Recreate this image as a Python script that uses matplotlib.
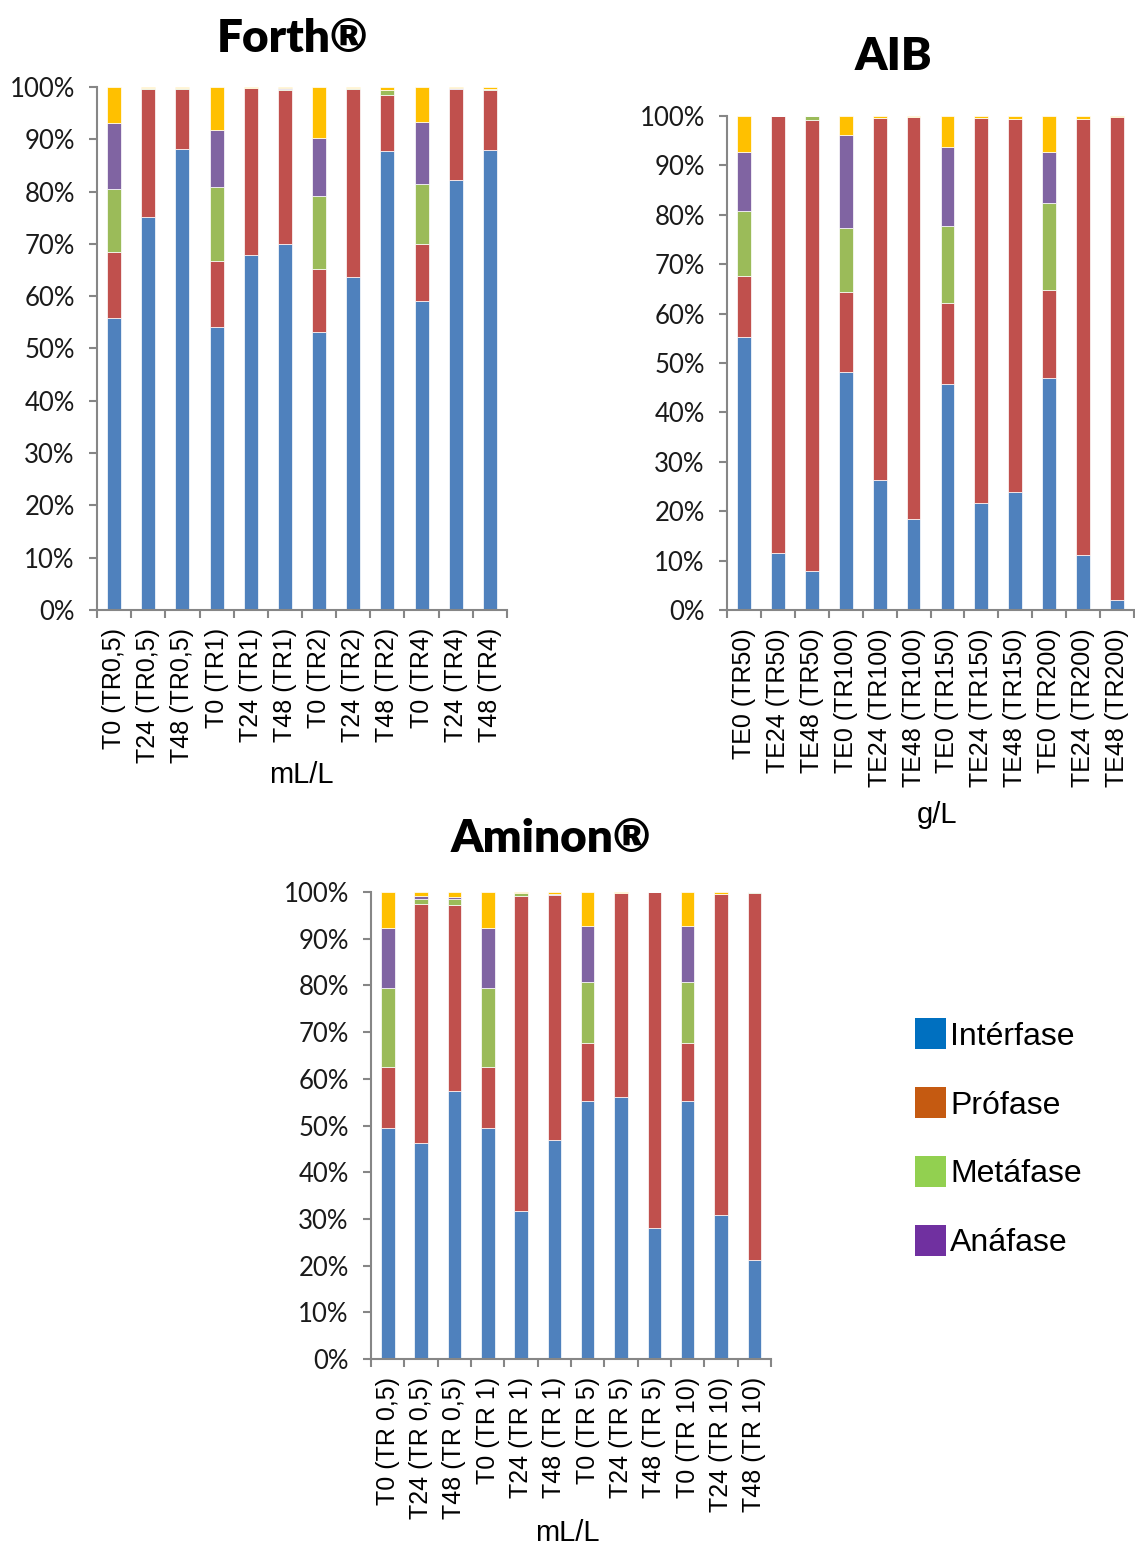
import matplotlib
matplotlib.use("Agg")
import matplotlib.pyplot as plt
import numpy as np
from matplotlib.patches import Patch
from matplotlib.ticker import FuncFormatter, FixedLocator

# ---------------- data (percent of cells per phase) ----------------
forth_labels = ["T0 (TR0,5)", "T24 (TR0,5)", "T48 (TR0,5)", "T0 (TR1)", "T24 (TR1)", "T48 (TR1)",
                "T0 (TR2)", "T24 (TR2)", "T48 (TR2)", "T0 (TR4)", "T24 (TR4)", "T48 (TR4)"]
forth_inter = [55.8, 75.1, 88.2, 54.1, 67.8, 69.9, 53.1, 63.6, 87.7, 59.1, 82.2, 87.9]
forth_pro   = [12.7, 24.5, 11.4, 12.7, 32.1, 29.6, 12.1, 36.0, 10.8, 10.9, 17.4, 11.5]
forth_meta  = [12.0, 0.3, 0.3, 14.1, 0.0, 0.2, 14.0, 0.3, 1.0, 11.5, 0.0, 0.3]
forth_ana   = [12.7, 0.0, 0.0, 10.9, 0.0, 0.2, 11.1, 0.0, 0.0, 11.9, 0.3, 0.0]
forth_telo  = [6.8, 0.1, 0.1, 8.2, 0.1, 0.1, 9.7, 0.1, 0.5, 6.6, 0.1, 0.3]

aib_labels = ["TE0 (TR50)", "TE24 (TR50)", "TE48 (TR50)", "TE0 (TR100)", "TE24 (TR100)", "TE48 (TR100)",
              "TE0 (TR150)", "TE24 (TR150)", "TE48 (TR150)", "TE0 (TR200)", "TE24 (TR200)", "TE48 (TR200)"]
aib_inter = [55.2, 11.5, 7.9, 48.2, 26.3, 18.4, 45.7, 21.7, 23.9, 46.9, 11.1, 2.0]
aib_pro   = [12.5, 88.4, 91.2, 16.2, 73.2, 81.3, 16.5, 77.9, 75.5, 17.8, 88.2, 97.7]
aib_meta  = [13.1, 0.1, 0.9, 12.9, 0.0, 0.0, 15.5, 0.0, 0.0, 17.6, 0.0, 0.0]
aib_ana   = [12.0, 0.0, 0.0, 18.9, 0.0, 0.0, 16.0, 0.0, 0.0, 10.5, 0.0, 0.0]
aib_telo  = [7.2, 0.0, 0.0, 3.8, 0.5, 0.3, 6.3, 0.4, 0.6, 7.2, 0.7, 0.3]

amin_labels = ["T0 (TR 0,5)", "T24 (TR 0,5)", "T48 (TR 0,5)", "T0 (TR 1)", "T24 (TR 1)", "T48 (TR 1)",
               "T0 (TR 5)", "T24 (TR 5)", "T48 (TR 5)", "T0 (TR 10)", "T24 (TR 10)", "T48 (TR 10)"]
amin_inter = [49.4, 46.3, 57.3, 49.4, 31.7, 46.9, 55.2, 56.0, 28.0, 55.2, 30.8, 21.2]
amin_pro   = [13.1, 51.2, 39.9, 13.1, 67.4, 52.4, 12.5, 43.8, 72.0, 12.5, 68.8, 78.5]
amin_meta  = [17.0, 1.0, 1.4, 17.0, 0.6, 0.0, 13.0, 0.0, 0.0, 13.0, 0.0, 0.3]
amin_ana   = [12.7, 0.7, 0.4, 12.7, 0.0, 0.3, 12.1, 0.0, 0.0, 12.1, 0.0, 0.0]
amin_telo  = [7.8, 0.8, 1.0, 7.8, 0.3, 0.4, 7.2, 0.2, 0.0, 7.2, 0.4, 0.0]

legend_labels = ["Intérfase", "Prófase", "Metáfase", "Anáfase"]

# ---------------- style ----------------
bar_colors = ["#4F81BD", "#C0504D", "#9BBB59", "#8064A2", "#FFC000"]
legend_colors = ["#0070C0", "#C55A11", "#92D050", "#7030A0"]
spine_col = "#868686"

W, H = 1135, 1546
fig = plt.figure(figsize=(W / 100, H / 100), dpi=100)


def px_axes(left, right, top, bottom):
    return fig.add_axes([left / W, 1 - bottom / H, (right - left) / W, (bottom - top) / H])


def draw(ax, labels, series):
    x = np.arange(len(labels))
    base = np.zeros(len(labels))
    for vals, col in zip(series, bar_colors):
        v = np.array(vals) / 100.0
        ax.bar(x, v, width=0.41, bottom=base, color=col, edgecolor="white", linewidth=0.5)
        base += v
    ax.set_xlim(-0.5, len(labels) - 0.5)
    ax.set_ylim(0, 1)
    ax.set_yticks(np.arange(0, 1.01, 0.1))
    ax.yaxis.set_major_formatter(FuncFormatter(lambda v, p: f"{int(round(v * 100))}%"))
    ax.set_xticks(x)
    ax.set_xticklabels(labels, rotation=90, fontsize=18, family="Liberation Sans")
    ax.xaxis.set_minor_locator(FixedLocator(np.arange(-0.5, len(labels), 1.0)))
    ax.tick_params(axis="x", which="major", length=0, pad=13)
    ax.tick_params(axis="x", which="minor", length=6, width=1.5, color=spine_col)
    ax.tick_params(axis="y", length=6, width=1.5, color=spine_col, labelsize=18.5, pad=10)
    for lab in ax.get_yticklabels():
        lab.set_family("Lato")
        lab.set_color("#1a1a1a")
    for s in ["top", "right"]:
        ax.spines[s].set_visible(False)
    for s in ["left", "bottom"]:
        ax.spines[s].set_color(spine_col)
        ax.spines[s].set_linewidth(1.5)


ax1 = px_axes(97, 507, 87, 610)
draw(ax1, forth_labels, [forth_inter, forth_pro, forth_meta, forth_ana, forth_telo])

ax2 = px_axes(727, 1134, 116, 610)
draw(ax2, aib_labels, [aib_inter, aib_pro, aib_meta, aib_ana, aib_telo])

ax3 = px_axes(371, 771, 892, 1359)
draw(ax3, amin_labels, [amin_inter, amin_pro, amin_meta, amin_ana, amin_telo])

# titles
tkw = dict(fontsize=33, fontweight="heavy", ha="center", va="center", family="Lato")
fig.text(292 / W, 1 - 38 / H, "Forth®", **tkw)
fig.text(893 / W, 1 - 57 / H, "AIB", **tkw)
fig.text(551 / W, 1 - 838 / H, "Aminon®", **tkw)

# axis labels
lkw = dict(fontsize=21, ha="center", va="center", family="Liberation Sans")
fig.text(301 / W, 1 - 775 / H, "mL/L", **lkw)
fig.text(937 / W, 1 - 815 / H, "g/L", **lkw)
fig.text(567 / W, 1 - 1533 / H, "mL/L", **lkw)

# legend
handles = [Patch(facecolor=c, edgecolor="none") for c in legend_colors]
fig.legend(handles, legend_labels, loc="upper left", bbox_to_anchor=(893 / W, 1 - 996 / H),
           frameon=False, handlelength=0.97, handleheight=1.1, handletextpad=0.12,
           labelspacing=1.12, borderaxespad=0.3,
           prop={"family": "Liberation Sans", "size": 23})

fig.savefig("out.png", dpi=100)
